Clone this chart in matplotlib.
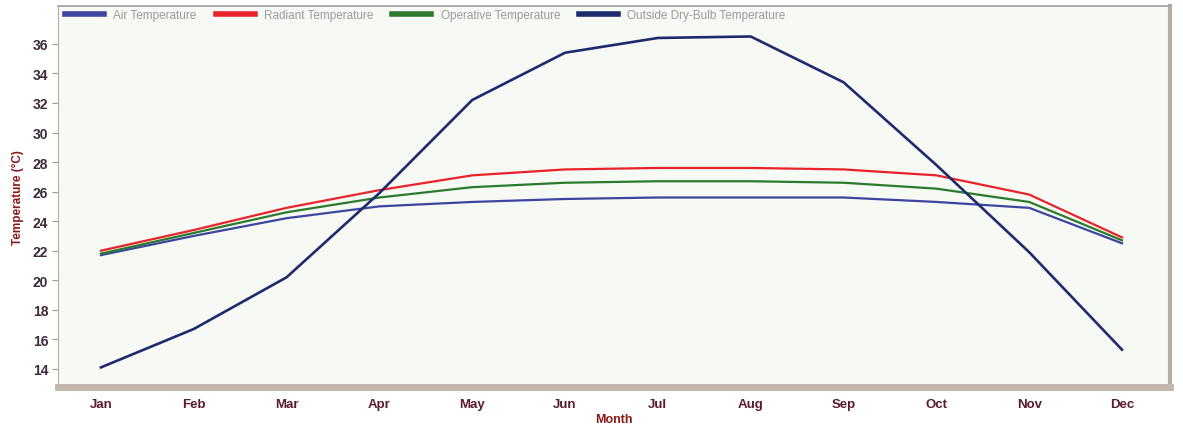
import matplotlib.pyplot as plt

months = ['Jan', 'Feb', 'Mar', 'Apr', 'May', 'Jun', 'Jul', 'Aug', 'Sep', 'Oct', 'Nov', 'Dec']
air_temp = [21.7, 23.0, 24.2, 25.0, 25.3, 25.5, 25.6, 25.6, 25.6, 25.3, 24.9, 22.5]
radiant_temp = [22.0, 23.4, 24.9, 26.1, 27.1, 27.5, 27.6, 27.6, 27.5, 27.1, 25.8, 22.9]
operative_temp = [21.8, 23.2, 24.6, 25.6, 26.3, 26.6, 26.7, 26.7, 26.6, 26.2, 25.3, 22.7]
outside_temp = [14.1, 16.7, 20.2, 25.9, 32.2, 35.4, 36.4, 36.5, 33.4, 27.8, 21.9, 15.3]
yticks = [14, 16, 18, 20, 22, 24, 26, 28, 30, 32, 34, 36]

plt.rcParams['font.family'] = ['Liberation Sans', 'DejaVu Sans']

fig = plt.figure(figsize=(11.83, 4.31), dpi=100)
ax = fig.add_axes([0.049, 0.1, 0.94, 0.884])
ax.set_facecolor('#f6f9f4')

x = list(range(len(months)))
ax.plot(x, air_temp, color='#3d45a0', lw=1.6, label='Air Temperature')
ax.plot(x, radiant_temp, color='#e8232b', lw=1.6, label='Radiant Temperature')
ax.plot(x, operative_temp, color='#2b7a2e', lw=1.6, label='Operative Temperature')
ax.plot(x, outside_temp, color='#1e2a6e', lw=1.9, label='Outside Dry-Bulb Temperature')

ax.set_xlim(-0.463, 11.517)
ax.set_ylim(12.78, 38.57)
ax.set_xticks(x)
ax.set_xticklabels(months, fontsize=9.5, color='#5a1a30', fontweight='bold')
ax.set_yticks(yticks)
ax.set_yticklabels([str(t) for t in yticks], fontsize=10, color='#3a2a3a', fontweight='bold')
ax.tick_params(axis='x', length=0, pad=8)
ax.tick_params(axis='y', length=4, width=0.8, color='#999999', pad=3)

ax.spines['left'].set_color('#b0b0b0')
ax.spines['left'].set_linewidth(0.8)
ax.spines['top'].set_color('#a0a0a0')
ax.spines['top'].set_linewidth(1.2)
ax.spines['bottom'].set_color('#c2b8ad')
ax.spines['bottom'].set_linewidth(5)
ax.spines['right'].set_color('#b5aea6')
ax.spines['right'].set_linewidth(3)

ax.set_ylabel('Temperature (°C)', fontsize=8.5, color='#8b1a1a', fontweight='bold', labelpad=6)
ax.set_xlabel('Month', fontsize=9, color='#8b1a1a', fontweight='bold', labelpad=2)

leg = ax.legend(loc='upper left', ncol=4, frameon=False, fontsize=8.5,
                bbox_to_anchor=(0.0, 1.01), handlelength=3.3, handletextpad=0.8,
                columnspacing=1.6, borderaxespad=0.2)
for line in leg.get_lines():
    line.set_linewidth(4)
for t in leg.get_texts():
    t.set_color('#9a9a9a')

fig.savefig('out.png', dpi=100, facecolor='white')
